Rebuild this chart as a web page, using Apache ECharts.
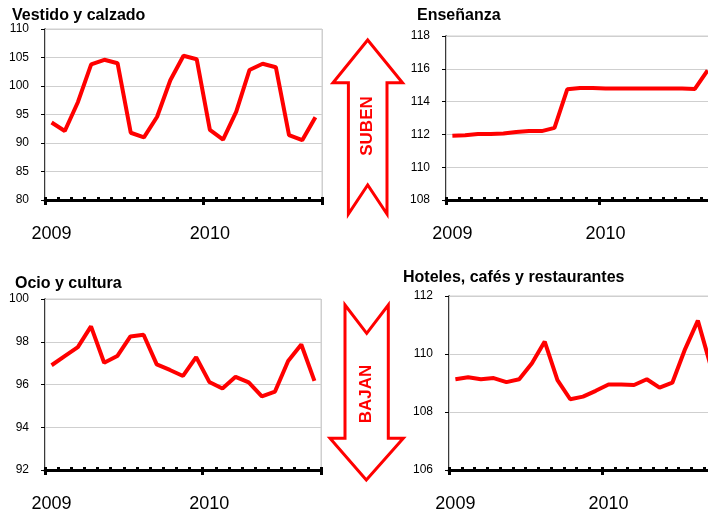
<!DOCTYPE html>
<html>
<head>
<meta charset="utf-8">
<script src="https://cdn.jsdelivr.net/npm/echarts@6/dist/echarts.min.js"></script>
<style>
html,body{margin:0;padding:0;background:#fff;overflow:hidden;}
#c{width:740px;height:513px;}
</style>
</head>
<body>
<div id="c"></div>
<script>
var months = ['ene 2009','feb 2009','mar 2009','abr 2009','may 2009','jun 2009','jul 2009','ago 2009','sep 2009','oct 2009','nov 2009','dic 2009',
              'ene 2010','feb 2010','mar 2010','abr 2010','may 2010','jun 2010','jul 2010','ago 2010','sep 2010'];
var titles = ['Vestido y calzado', 'Enseñanza', 'Ocio y cultura', 'Hoteles, cafés y restaurantes'];
var vestido = [93.6, 92.1, 97.2, 103.8, 104.6, 104.0, 91.8, 91.0, 94.6, 101.0, 105.3, 104.7,
               92.3, 90.6, 95.5, 102.8, 103.9, 103.3, 91.4, 90.5, 94.5];
var ensenanza = [111.92, 111.95, 112.03, 112.03, 112.05, 112.15, 112.2, 112.2, 112.4, 114.75, 114.83, 114.83,
                 114.8, 114.8, 114.8, 114.8, 114.8, 114.8, 114.8, 114.77, 115.9];
var ocio = [96.9, 97.33, 97.75, 98.72, 97.02, 97.33, 98.25, 98.33, 96.94, 96.68, 96.4, 97.28,
            96.12, 95.81, 96.36, 96.1, 95.44, 95.67, 97.1, 97.87, 96.17];
var hoteles = [109.13, 109.2, 109.13, 109.17, 109.03, 109.13, 109.68, 110.43, 109.1, 108.44, 108.53, 108.73,
               108.95, 108.95, 108.93, 109.13, 108.84, 109.01, 110.17, 111.15, 109.6];
var yRanges = [[80, 110, 5], [108, 118, 2], [92, 100, 2], [106, 112, 2]];
var arrowLabels = ['SUBEN', 'BAJAN'];

var seriesData = [vestido, ensenanza, ocio, hoteles];
var grids = [
  {left: 45, top: 29, width: 277, height: 171},
  {left: 446, top: 36, width: 268, height: 164},
  {left: 45, top: 299, width: 276, height: 173},
  {left: 449, top: 296, width: 268, height: 176}
];
var titlePos = [[12, 8], [417, 8], [15, 276], [403, 270]];
var FONT = '"Liberation Sans", Arial, sans-serif';

var option = {
  animation: false,
  backgroundColor: '#fff',
  title: [], grid: [], xAxis: [], yAxis: [], series: [], graphic: []
};

for (var i = 0; i < 4; i++) {
  option.title.push({
    text: titles[i], left: titlePos[i][0], top: titlePos[i][1], padding: 0,
    textStyle: {fontFamily: FONT, fontSize: 16, fontWeight: 'bold', color: '#000'}
  });
  var g = grids[i];
  option.grid.push({left: g.left, top: g.top, width: g.width, height: g.height,
    show: true, borderColor: '#cfcfcf', borderWidth: 1, backgroundColor: 'transparent'});
  option.xAxis.push({
    type: 'category', gridIndex: i, data: months, boundaryGap: true,
    axisLine: {show: true, lineStyle: {color: '#000', width: 3}},
    axisTick: {show: true, interval: 0, inside: true, length: 3, lineStyle: {color: '#000', width: 3}},
    axisLabel: {interval: function (idx) { return idx === 0 || idx === 12; },
      formatter: function (v) { return v.slice(-4); },
      fontFamily: FONT, fontSize: 18, color: '#000', margin: 25},
    splitLine: {show: true, interval: function (idx) { return idx === 12; },
      lineStyle: {color: '#cfcfcf', width: 1}},
    z: 5
  });
  option.yAxis.push({
    type: 'value', gridIndex: i, min: yRanges[i][0], max: yRanges[i][1], interval: yRanges[i][2],
    axisLine: {show: true, lineStyle: {color: '#000', width: 1.5}},
    axisTick: {show: true, length: 4, lineStyle: {color: '#000', width: 1}},
    axisLabel: {fontFamily: FONT, fontSize: 12, color: '#000', margin: 16},
    splitLine: {show: true, lineStyle: {color: '#cfcfcf', width: 1}}
  });
  option.series.push({
    type: 'line', xAxisIndex: i, yAxisIndex: i, data: seriesData[i],
    symbol: 'none', lineStyle: {color: '#ff0000', width: 4}, z: 3
  });
}
for (var j = 0; j < 4; j++) {
  option.xAxis.push({
    type: 'category', gridIndex: j, data: months, boundaryGap: true, position: 'bottom',
    axisLine: {show: false},
    axisTick: {show: true, interval: function (idx) { return idx === 0 || idx === 12; }, length: 5,
      lineStyle: {color: '#000', width: 3}},
    axisLabel: {show: false}, splitLine: {show: false}, z: 5
  });
}

var red = '#ff0000';
option.graphic = [
  {type: 'polygon', shape: {points: [[367.7, 40], [402.5, 82.7], [387, 82.7], [387, 214], [367.7, 185], [348.4, 214], [348.4, 82.7], [333, 82.7]]},
   style: {fill: '#fff', stroke: red, lineWidth: 3}, z: 10},
  {type: 'text', x: 367.7, y: 126, rotation: Math.PI / 2,
   style: {text: arrowLabels[0], fill: red, font: 'bold 17px ' + FONT, textAlign: 'center', textVerticalAlign: 'middle'}, z: 11},
  {type: 'polygon', shape: {points: [[345, 305], [366.7, 333.3], [388.3, 305], [388.3, 438.3], [403.3, 438.3], [366.3, 480], [330, 438.3], [345, 438.3]]},
   style: {fill: '#fff', stroke: red, lineWidth: 3}, z: 10},
  {type: 'text', x: 366.3, y: 394, rotation: Math.PI / 2,
   style: {text: arrowLabels[1], fill: red, font: 'bold 17px ' + FONT, textAlign: 'center', textVerticalAlign: 'middle'}, z: 11}
];

var chart = echarts.init(document.getElementById('c'), null, {renderer: 'canvas'});
chart.setOption(option);
</script>
</body>
</html>
